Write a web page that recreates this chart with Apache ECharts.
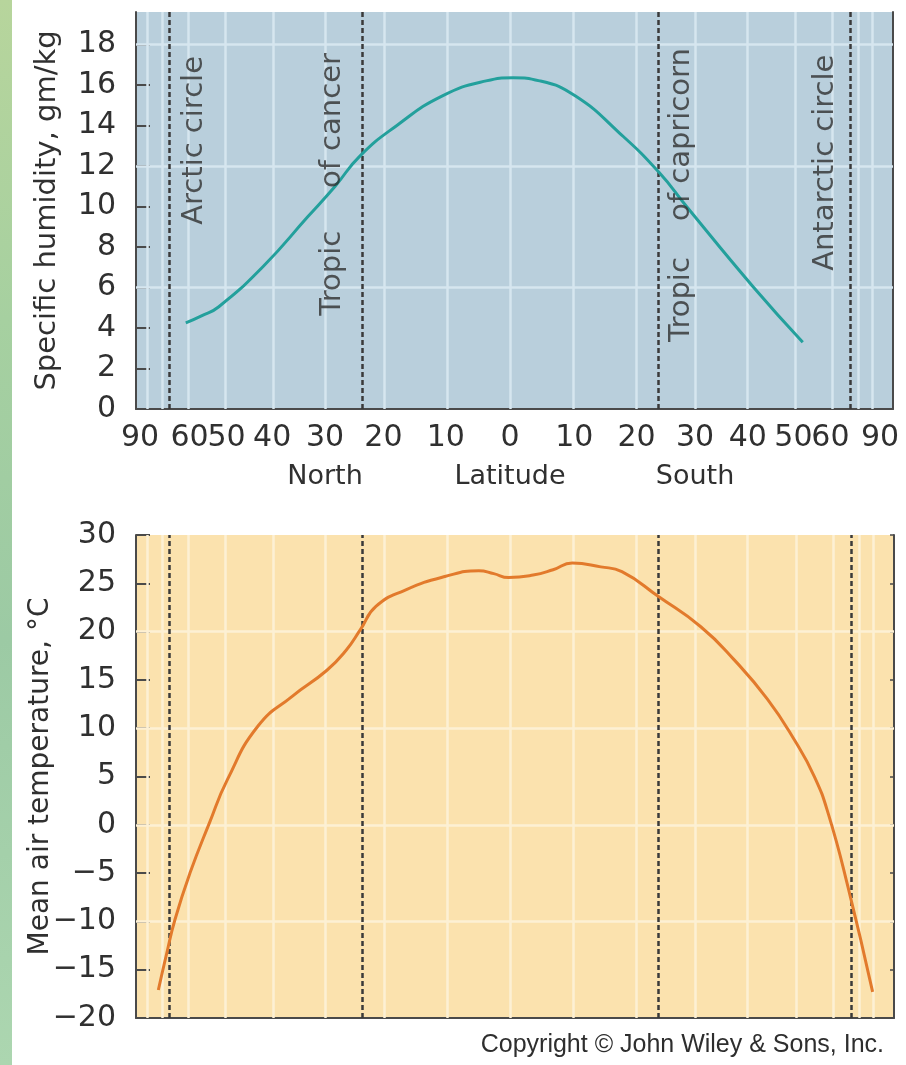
<!DOCTYPE html>
<html><head><meta charset="utf-8">
<script src="https://cdn.jsdelivr.net/npm/echarts@6/dist/echarts.min.js"></script>
<style>html,body{margin:0;padding:0;background:#fff;}#c{width:906px;height:1065px;}</style>
</head><body><div id="c"></div>
<script>
// ---------- data (latitude: north positive, south negative) ----------
const tickLatitudes = [90, 60, 50, 40, 30, 20, 10, 0, -10, -20, -30, -40, -50, -60, -90];
const gridLatitudes = [80, 70, 60, 50, 40, 30, 20, 10, 0, -10, -20, -30, -40, -50, -60, -70, -80];
const circleLatitudes = [66.5, 23.5, -23.5, -66.5];
const regionNames = { '30': 'North', '0': 'Latitude', '-30': 'South' };

const humidityLat = [61.2, 56.5, 51.9, 41.8, 33.1, 28.2, 23.9, 17.8, 10.6, 3.7, -0.5, -4.6, -10.2, -17.3, -23.7, -28.5, -41.2, -52.3];
const humidityVal = [4.25, 4.6, 5.05, 7.05, 9.5, 11.0, 12.5, 14.0, 15.45, 16.2, 16.35, 16.2, 15.45, 13.6, 11.7, 10.0, 6.0, 3.3];
const humidityTicks = [0, 2, 4, 6, 8, 10, 12, 14, 16, 18];
const humidityGrid = [6, 12, 18];

const tempLat = [71.9, 68.1, 64.9, 59.9, 54.4, 49.8, 43.0, 36.1, 29.7, 26.3, 23.9, 21.3, 16.5, 10.2, 4.9, 2.6, 0.3, -3.5, -6.6, -9.6, -14.1, -17.5, -23.6, -30.9, -37.1, -43.9, -50.0, -55.1, -59.1, -65.6, -77.8];
const tempVal = [-17.1, -13.3, -9.8, -5.0, 0.15, 4.7, 10.2, 13.3, 16.0, 18.1, 20.2, 22.6, 24.3, 25.7, 26.3, 26.0, 25.6, 25.85, 26.4, 27.1, 26.7, 26.2, 23.6, 20.5, 17.1, 13.0, 8.8, 5.0, 1.1, -6.4, -17.3];
const tempTicks = [-20, -15, -10, -5, 0, 5, 10, 15, 20, 25, 30];
const tempGrid = [-10, 0, 10, 20];

const annoText = ['Arctic circle', 'of cancer', 'Tropic', 'of capricorn', 'Tropic', 'Antarctic circle'];
const annoLat = [58.6, 28.6, 28.6, -27.6, -27.6, -58.6];
const annoVal = [13.26, 14.24, 6.7, 13.55, 5.4, 12.16];

// ---------- helpers ----------
const FONT = 'DejaVu Sans';
const TXT = '#303030';
const AX = '#4a4a4a';
const U = lat => -Math.sin(lat * Math.PI / 180); // area-proportional latitude scale, north on the left
const X_MIN = -1.0108, X_MAX = 1.0351;

function latLabel(v) {
  const lat = -Math.round(Math.asin(Math.max(-1, Math.min(1, v))) * 180 / Math.PI);
  const s = String(Math.abs(lat));
  const key = String(lat === 0 ? 0 : lat);
  return regionNames[key] ? s + '\n{s|' + regionNames[key] + '}' : s;
}
const minusFmt = v => (v < 0 ? '\u2212' + Math.abs(v) : String(v));

const axLine = { show: true, onZero: false, lineStyle: { color: AX, width: 2 } };

function gridLineSeries(xi, yi, hVals, vColor, z) {
  return {
    type: 'line', xAxisIndex: xi, yAxisIndex: yi, data: [], z: z, silent: true,
    markLine: {
      silent: true, symbol: ['none', 'none'], label: { show: false }, animation: false,
      lineStyle: { color: vColor, width: 2.5, type: 'solid' },
      data: gridLatitudes.map(l => ({ xAxis: U(l) })).concat(hVals.map(v => ({ yAxis: v })))
    }
  };
}
function circleSeries(xi, yi) {
  return {
    type: 'line', xAxisIndex: xi, yAxisIndex: yi, data: [], z: 4, silent: true,
    markLine: {
      silent: true, symbol: ['none', 'none'], label: { show: false }, animation: false,
      lineStyle: { color: '#3a3a3a', width: 2.5, type: [5, 3] },
      data: circleLatitudes.map(l => ({ xAxis: U(l) }))
    }
  };
}

const chart = echarts.init(document.getElementById('c'), null, { renderer: 'canvas' });
const option = {
  animation: false,
  backgroundColor: '#ffffff',
  grid: [
    { left: 136, top: 12, width: 757, height: 397, show: true, backgroundColor: '#b9cfdc', borderWidth: 0, containLabel: false, outerBoundsMode: 'none' },
    { left: 136, top: 535, width: 758, height: 483, show: true, backgroundColor: '#fbe2ae', borderWidth: 0, containLabel: false, outerBoundsMode: 'none' }
  ],
  xAxis: [
    {
      gridIndex: 0, type: 'value', min: X_MIN, max: X_MAX,
      axisLine: axLine, axisTick: { show: false }, splitLine: { show: false },
      axisLabel: {
        customValues: tickLatitudes.map(U), formatter: latLabel, hideOverlap: false,
        fontSize: 30, fontFamily: FONT, color: TXT, margin: 11, lineHeight: 36,
        rich: { s: { fontSize: 27, lineHeight: 42, fontFamily: FONT, color: TXT } }
      }
    },
    {
      gridIndex: 1, type: 'value', min: X_MIN, max: X_MAX,
      axisLine: axLine, axisTick: { show: false }, splitLine: { show: false }, axisLabel: { show: false }
    }
  ],
  yAxis: [
    {
      gridIndex: 0, type: 'value', min: 0, max: 19.6,
      axisLine: axLine,
      axisTick: { show: true, inside: true, length: 14, customValues: humidityTicks, lineStyle: { color: AX, width: 2 } },
      axisLabel: { customValues: humidityTicks, fontSize: 30, fontFamily: FONT, color: TXT, margin: 20 },
      splitLine: { show: false },
      name: 'Specific humidity, gm/kg', nameLocation: 'middle', nameGap: 74, nameRotate: 90, nameMoveOverlap: false,
      nameTextStyle: { fontSize: 29, fontFamily: FONT, color: TXT }
    },
    {
      gridIndex: 0, type: 'value', position: 'right', min: 0, max: 19.6,
      axisLine: axLine, axisTick: { show: false }, axisLabel: { show: false }, splitLine: { show: false }
    },
    {
      gridIndex: 1, type: 'value', min: -20, max: 30, interval: 5,
      axisLine: axLine,
      axisTick: { show: true, inside: true, length: 14, lineStyle: { color: AX, width: 2 } },
      axisLabel: { formatter: minusFmt, fontSize: 30, fontFamily: FONT, color: TXT, margin: 20 },
      splitLine: { show: false },
      name: 'Mean air temperature, \u00B0C', nameLocation: 'middle', nameGap: 81, nameRotate: 90, nameMoveOverlap: false,
      nameTextStyle: { fontSize: 28, fontFamily: FONT, color: TXT }
    },
    {
      gridIndex: 1, type: 'value', position: 'right', min: -20, max: 30, interval: 5,
      axisLine: axLine, axisTick: { show: true, inside: true, length: 4, lineStyle: { color: AX, width: 1.5 } },
      axisLabel: { show: false }, splitLine: { show: false }
    }
  ],
  series: [
    gridLineSeries(0, 0, humidityGrid, '#d6e6ef', 1),
    gridLineSeries(1, 2, tempGrid, '#fdf0d4', 1),
    circleSeries(0, 0),
    circleSeries(1, 2),
    {
      type: 'line', xAxisIndex: 0, yAxisIndex: 0, z: 5, smooth: 0.5, showSymbol: false, symbol: 'none',
      lineStyle: { color: '#23a09c', width: 3 },
      data: humidityLat.map((l, i) => [U(l), humidityVal[i]])
    },
    {
      type: 'line', xAxisIndex: 1, yAxisIndex: 2, z: 5, smooth: 0.5, showSymbol: false, symbol: 'none',
      lineStyle: { color: '#e27a2c', width: 3 },
      data: tempLat.map((l, i) => [U(l), tempVal[i]])
    },
    {
      type: 'scatter', xAxisIndex: 0, yAxisIndex: 0, z: 6, symbolSize: 0, silent: true,
      label: {
        show: true, position: 'inside', rotate: 90, fontSize: 29, fontFamily: FONT, color: TXT,
        formatter: p => annoText[p.dataIndex]
      },
      data: annoLat.map((l, i) => [U(l), annoVal[i]])
    }
  ],
  graphic: [
    {
      type: 'rect', left: 0, top: 0, z: 10,
      shape: { width: 12, height: 1065 },
      style: {
        fill: new echarts.graphic.LinearGradient(0, 0, 0, 1, [
          { offset: 0, color: '#b7d59c' }, { offset: 0.3, color: '#a6d0a0' },
          { offset: 0.6, color: '#9ccaa4' }, { offset: 1, color: '#acd6b0' }
        ])
      }
    },
    {
      type: 'text', right: 22, top: 1033, z: 10,
      style: { text: 'Copyright \u00A9 John Wiley & Sons, Inc.', fontSize: 25, fontFamily: 'Liberation Sans', fill: '#2e2e2e' }
    }
  ]
};
chart.setOption(option);
</script>
</body></html>
